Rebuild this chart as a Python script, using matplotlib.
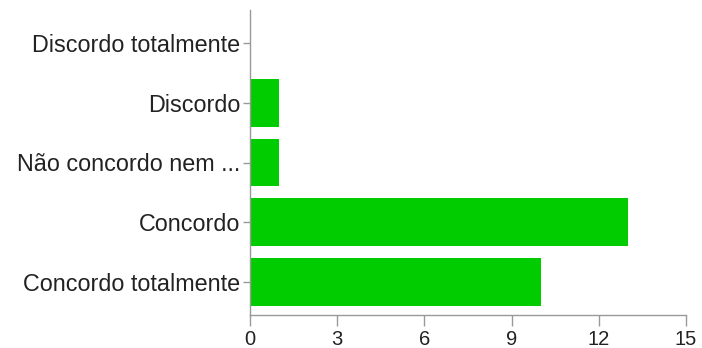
import matplotlib
matplotlib.use("Agg")
import matplotlib.pyplot as plt

# Survey response counts
categories = ["Concordo totalmente", "Concordo", "Não concordo nem ...", "Discordo", "Discordo totalmente"]
counts = [10, 13, 1, 1, 0]
xticks = [0, 3, 6, 9, 12, 15]

plt.rcParams['font.family'] = ['Liberation Sans', 'DejaVu Sans']

fig = plt.figure(figsize=(7.02, 3.48), dpi=100)
ax = fig.add_axes([250 / 702, 33 / 348, 436 / 702, 305 / 348])

pos = list(range(len(categories)))
ax.barh(pos, counts, height=0.8, color="#00cc00", edgecolor="none")

ax.set_xlim(0, 15)
ax.set_ylim(-0.55, 4.55)
ax.set_xticks(xticks)
ax.set_xticklabels([str(t) for t in xticks])
ax.set_yticks(pos)
ax.set_yticklabels(categories)

for s in ["top", "right"]:
    ax.spines[s].set_visible(False)
for s in ["left", "bottom"]:
    ax.spines[s].set_color("#999999")
    ax.spines[s].set_linewidth(1.0)

ax.tick_params(axis="x", length=8, width=1, color="#999999", labelsize=14.5, labelcolor="#222222", pad=3)
ax.tick_params(axis="y", length=5, width=1, color="#999999", labelsize=16.8, labelcolor="#222222", pad=2)

fig.savefig("out.png", dpi=100)
